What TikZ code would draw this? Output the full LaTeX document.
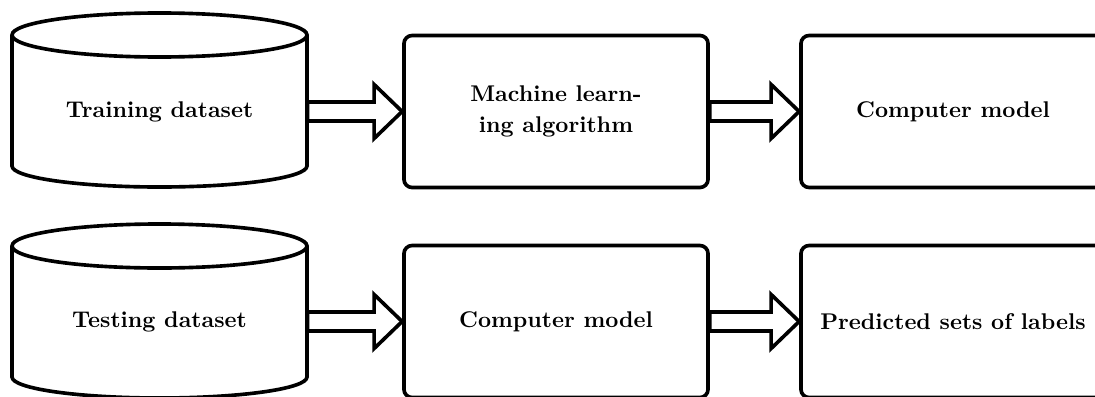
\documentclass[tikz,border=0pt]{standalone}
\usetikzlibrary{calc}
\tikzset{
  x=0.44pt, y=0.44pt,
  procbox/.style={draw, line width=1.6pt, rounded corners=3.6pt, fill=white,
    minimum width=133.8pt, minimum height=66.9pt, align=center, font=\bfseries, inner sep=0pt},
  cyltext/.style={minimum width=129.8pt, inner sep=0pt, font=\bfseries},
  cylshape/.style={draw, line width=1.6pt, fill=white},
  hollowarrow/.style={draw, line width=1.6pt, fill=white, line join=miter}
}
\newcommand{\bigarrow}[2]{%
  \draw[hollowarrow] ($(#1.east |- #2.west)+(0,9.5)$) -- ($(#2.west)+(-28,9.5)$) -- ($(#2.west)+(-28,27)$)
    -- (#2.west) -- ($(#2.west)+(-28,-27)$) -- ($(#2.west)+(-28,-9.5)$)
    -- ($(#1.east |- #2.west)+(0,-9.5)$) -- cycle;}
\begin{document}
\begin{tikzpicture}
\useasboundingbox (0,0) rectangle (1095,-396);
\clip (0,0) rectangle (1095,-396);
% top cylinder
\draw[cylshape] (12,-35) -- (12,-166) arc[start angle=180, end angle=360, x radius=147.5, y radius=21] -- (307,-35);
\draw[cylshape] (159.5,-35) ellipse[x radius=147.5, y radius=22];
\node[cyltext] (train) at (159.5,-112) {Training dataset};
% bottom cylinder
\draw[cylshape] (12,-246) -- (12,-377) arc[start angle=180, end angle=360, x radius=147.5, y radius=21] -- (307,-246);
\draw[cylshape] (159.5,-246) ellipse[x radius=147.5, y radius=22];
\node[cyltext] (test) at (159.5,-322) {Testing dataset};
% boxes
\node[procbox] (mla) at (556,-111.5) {\raisebox{-1pt}{Machine learn-}\\[2.8pt]ing algorithm};
\node[procbox] (cm1) at (953,-111.5) {Computer model};
\node[procbox] (cm2) at (556,-321.5) {Computer model};
\node[procbox] (pred) at (953,-321.5) {Predicted sets of labels};
% arrows
\bigarrow{train}{mla}
\bigarrow{mla}{cm1}
\bigarrow{test}{cm2}
\bigarrow{cm2}{pred}
\end{tikzpicture}
\end{document}
